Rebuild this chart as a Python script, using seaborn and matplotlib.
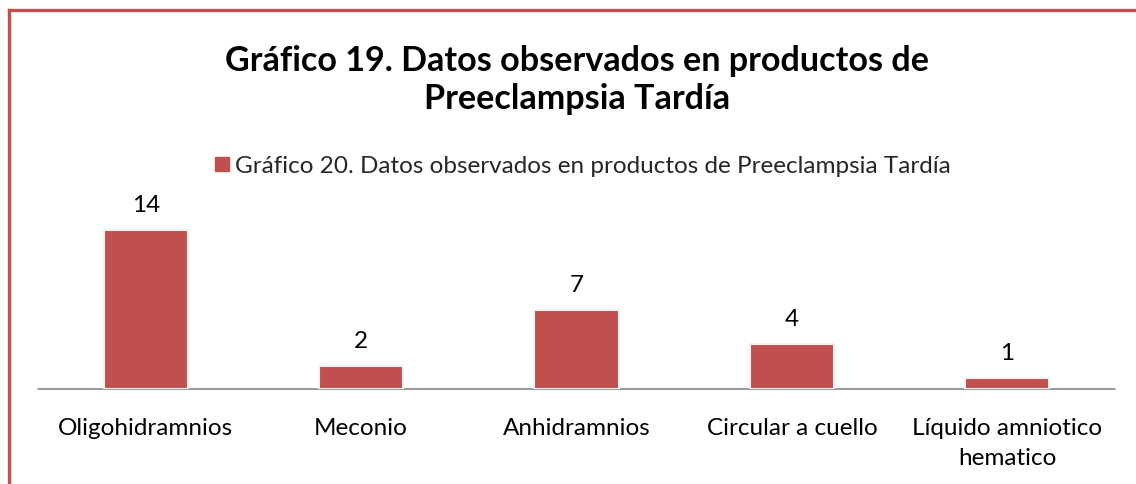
import matplotlib
matplotlib.use("Agg")
import matplotlib.pyplot as plt
import seaborn as sns
import pandas as pd
from matplotlib.lines import Line2D

categories = ["Oligohidramnios", "Meconio", "Anhidramnios", "Circular a cuello",
              "Líquido amniotico\nhematico"]
values = [14, 2, 7, 4, 1]
series_name = "Gráfico 20. Datos observados en productos de Preeclampsia Tardía"
title = "Gráfico 19. Datos observados en productos de\nPreeclampsia Tardía"

sns.set_theme(style="white")
plt.rcParams['font.family'] = ['Lato', 'DejaVu Sans']

df = pd.DataFrame({"cat": categories, "val": values, "serie": series_name})

W, H = 1136, 484
fig = plt.figure(figsize=(W / 100, H / 100), dpi=100)
ax_left, ax_right = 38 / W, 1115 / W
ax_bottom = 1 - 389 / H
ax_top = 1 - 190 / H
ax = fig.add_axes([ax_left, ax_bottom, ax_right - ax_left, ax_top - ax_bottom])

color = "#C0504D"
sns.barplot(data=df, x="cat", y="val", hue="serie", palette=[color], width=0.39,
            saturation=1, ax=ax, legend=False, edgecolor="#f2f2f2", linewidth=1.5)

ax.set_xlim(-0.5, 4.5)
ax.set_ylim(0, 199 / (159 / 14))
for c in ax.containers:
    ax.bar_label(c, fmt="%d", padding=10, fontsize=17.5, color="black")

ax.set_xlabel("")
ax.set_ylabel("")
ax.set_yticks([])
ax.tick_params(axis="x", length=0, labelsize=17.5, pad=21, colors="black")
for lbl in ax.get_xticklabels():
    lbl.set_linespacing(1.5)
for s in ["top", "right", "left", "bottom"]:
    ax.spines[s].set_visible(False)
ax.axhline(0, color="#888888", linewidth=1.2, zorder=0.5, clip_on=False)

fig.text(0.508, 1 - 80 / H, title, ha="center", va="center", fontsize=24.6,
         fontweight="bold", color="black", linespacing=1.25)

handle = Line2D([], [], marker="s", linestyle="", markersize=9.5, color=color)
fig.legend([handle], [series_name], loc="center", bbox_to_anchor=(0.512, 1 - 166 / H),
           frameon=False, fontsize=17.5, handletextpad=0.15, handlelength=0.8)

bc = "#C0504D"
fig.add_artist(Line2D([9 / W, 9 / W], [0, 1 - 10 / H], transform=fig.transFigure,
                      color=bc, linewidth=2.4, solid_capstyle="projecting"))
fig.add_artist(Line2D([9 / W, 1], [1 - 10 / H, 1 - 10 / H], transform=fig.transFigure,
                      color=bc, linewidth=2.4, solid_capstyle="projecting"))

fig.savefig("out.png", dpi=100, facecolor="white")
